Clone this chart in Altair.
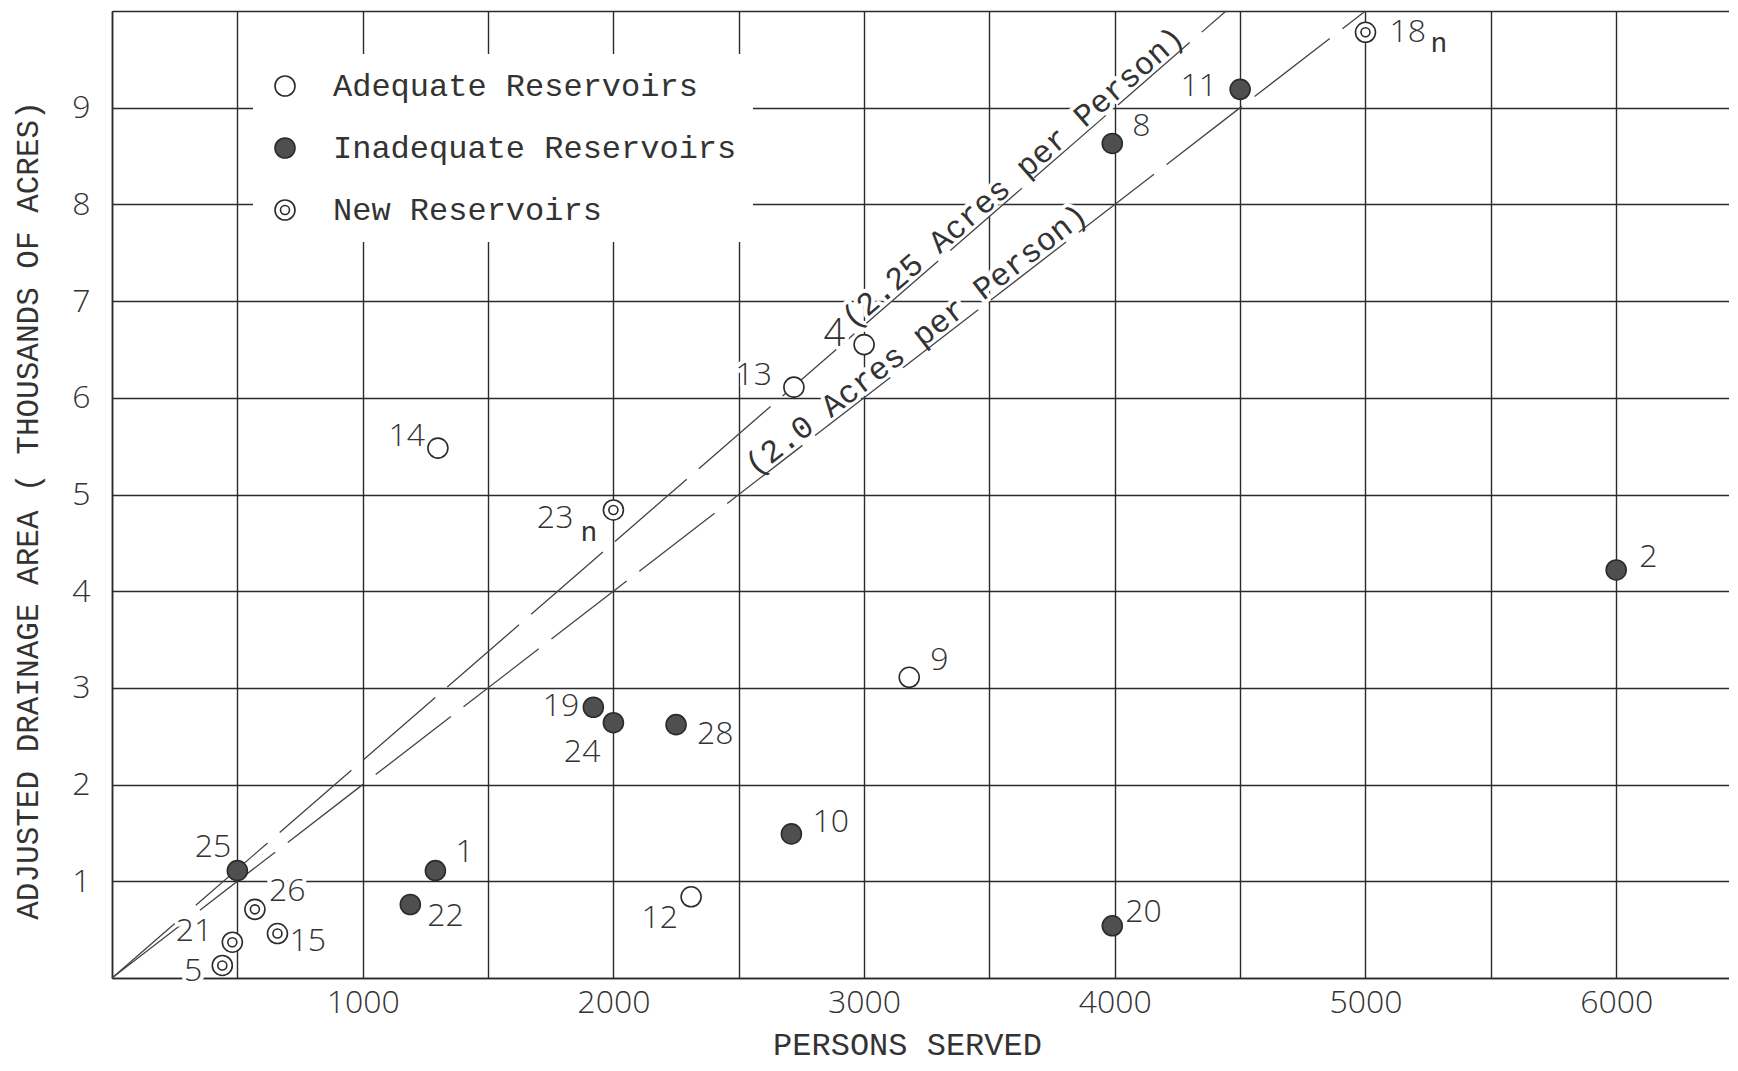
import altair as alt
import pandas as pd

# ---------------- data ----------------
IDS = ["1", "2", "4", "5", "8", "9", "10", "11", "12", "13", "14",
       "15", "18", "19", "20", "21", "22", "23", "24", "25", "26", "28"]
PERSONS = [1290, 6000, 3000, 440, 3990, 3180, 2710, 4500, 2310, 2720, 1300,
           660, 5000, 1920, 3990, 480, 1190, 2000, 2000, 500, 570, 2250]
AREA = [1.11, 4.22, 6.55, 0.13, 8.63, 3.11, 1.49, 9.19, 0.84, 6.11, 5.48,
        0.46, 9.78, 2.80, 0.54, 0.37, 0.76, 4.84, 2.64, 1.11, 0.71, 2.62]
TYPE = ["Inadequate Reservoirs", "Inadequate Reservoirs", "Adequate Reservoirs",
        "New Reservoirs", "Inadequate Reservoirs", "Adequate Reservoirs",
        "Inadequate Reservoirs", "Inadequate Reservoirs", "Adequate Reservoirs",
        "Adequate Reservoirs", "Adequate Reservoirs", "New Reservoirs",
        "New Reservoirs", "Inadequate Reservoirs", "Inadequate Reservoirs",
        "New Reservoirs", "Inadequate Reservoirs", "New Reservoirs",
        "Inadequate Reservoirs", "Inadequate Reservoirs", "New Reservoirs",
        "Inadequate Reservoirs"]
SUBSCRIPT = ["", "", "", "", "", "", "", "", "", "", "",
             "", "n", "", "", "", "", "n", "", "", "", ""]

CATS = ["Adequate Reservoirs", "Inadequate Reservoirs", "New Reservoirs"]

GUIDE_RATE = ["2.25", "2.25", "2.0", "2.0"]
GUIDE_PERSONS = [0, 4444, 0, 5000]
GUIDE_AREA = [0, 10, 0, 10]

GUIDE_LABELS = ["(2.25 Acres per Person)", "(2.0 Acres per Person)"]
GUIDE_LABEL_PERSONS = [2965, 2575]
GUIDE_LABEL_AREA = [6.67, 5.15]

X_TICKS = [0, 500, 1000, 1500, 2000, 2500, 3000, 3500, 4000, 4500, 5000, 5500, 6000]
Y_TICKS = [0, 1, 2, 3, 4, 5, 6, 7, 8, 9, 10]

# ---------------- style ----------------
W, H = 1617, 967
X_MAX = 6450
MONO = "Liberation Mono"
NUM = "Open Sans"
INK = "#2b2b2b"
TEXT = "#333333"
DOUBLE_RING = ("M-1,0A1,1,0,1,0,1,0A1,1,0,1,0,-1,0Z"
               "M-0.45,0A0.45,0.45,0,1,0,0.45,0A0.45,0.45,0,1,0,-0.45,0Z")

# label placement: (align, dx, dy) in pixels relative to the point
PLACE = {
    "18": ("left", 24, 0), "11": ("right", -23, -3), "8": ("left", 20, -17),
    "4": ("right", -19, -10), "13": ("right", -22, -12), "14": ("right", -13, -12),
    "23": ("right", -40, 8), "2": ("left", 23, -13), "9": ("left", 21, -17),
    "19": ("right", -14, -1), "24": ("right", -13, 29), "28": ("left", 21, 9),
    "10": ("left", 21, -12), "25": ("right", -6, -24), "1": ("left", 20, -19),
    "26": ("left", 14, -18), "22": ("left", 17, 11), "12": ("right", -13, 21),
    "20": ("left", 13, -14), "15": ("left", 12, 7), "21": ("right", -20, -11),
    "5": ("right", -20, 6),
}
SUB_PLACE = {"18": (65, 12), "23": (-33, 23)}

pts = pd.DataFrame({"id": IDS, "persons": PERSONS, "area": AREA,
                    "type": TYPE, "sub": SUBSCRIPT})
guides = pd.DataFrame({"rate": GUIDE_RATE, "persons": GUIDE_PERSONS, "area": GUIDE_AREA})
glabels = pd.DataFrame({"label": GUIDE_LABELS, "persons": GUIDE_LABEL_PERSONS,
                        "area": GUIDE_LABEL_AREA})

x_axis = alt.Axis(values=X_TICKS, grid=True, ticks=False, domain=True,
                  gridColor=INK, gridWidth=1.4, gridOpacity=1,
                  domainColor=INK, domainWidth=1.6,
                  labelExpr="(datum.value % 1000 == 0 && datum.value > 0) ? format(datum.value, 'd') : ''",
                  labelFont=NUM, labelFontSize=32, labelFontWeight=300, labelColor=TEXT,
                  labelPadding=9, labelOverlap=False, labelFlush=False,
                  title="PERSONS SERVED", titleFont=MONO, titleFontSize=32,
                  titleFontWeight="normal", titleColor=TEXT, titleX=795, titleY=76,
                  titleAlign="center", titleBaseline="alphabetic")
y_axis = alt.Axis(values=Y_TICKS, grid=True, ticks=False, domain=True,
                  gridColor=INK, gridWidth=1.4, gridOpacity=1,
                  domainColor=INK, domainWidth=1.6,
                  labelExpr="(datum.value >= 1 && datum.value <= 9) ? format(datum.value, 'd') : ''",
                  labelFont=NUM, labelFontSize=32, labelFontWeight=300, labelColor=TEXT,
                  labelPadding=22, labelOverlap=False, labelFlush=False,
                  title="ADJUSTED DRAINAGE AREA ( THOUSANDS OF ACRES)", titleFont=MONO,
                  titleFontSize=31, titleFontWeight="normal", titleColor=TEXT,
                  titleAngle=270, titleX=-84, titleY=499, titleAlign="center",
                  titleBaseline="middle")

x_enc = alt.X("persons:Q", scale=alt.Scale(domain=[0, X_MAX], nice=False, zero=False), axis=x_axis)
y_enc = alt.Y("area:Q", scale=alt.Scale(domain=[0, 10], nice=False, zero=False), axis=y_axis)

layers = []

# halos behind guide labels (mask gridlines)
for i, ang in [(0, 319.05), (1, 322.35)]:
    layers.append(
        alt.Chart(glabels.iloc[[i]]).mark_text(
            align="left", baseline="alphabetic", dy=-4, angle=ang, font=MONO,
            fontSize=32, color="white", stroke="white", strokeWidth=8, strokeJoin="round"
        ).encode(x=x_enc, y=y_enc, text="label:N")
    )

# guide lines
layers.append(
    alt.Chart(guides).mark_line(color="#444444", strokeWidth=1.3, strokeDash=[95, 16])
    .encode(x=x_enc, y=y_enc, detail="rate:N")
)

base = alt.Chart(pts)


def label_layer(lid, halo):
    align, dx, dy = PLACE[lid]
    size = 38 if lid == "4" else 32
    props = dict(align=align, dx=dx, dy=dy, baseline="middle", font=NUM,
                 fontSize=size, fontWeight=300)
    if halo:
        props.update(color="white", stroke="white", strokeWidth=8, strokeJoin="round")
    else:
        props.update(color=TEXT)
    return base.transform_filter(alt.datum.id == lid).mark_text(**props).encode(
        x=x_enc, y=y_enc, text="id:N")


for lid in IDS:
    layers.append(label_layer(lid, True))

legend = alt.Legend(title=None, orient="none", legendX=141, legendY=43,
                    fillColor="white", padding=16, labelFont=MONO, labelFontSize=32,
                    labelColor=TEXT, labelLimit=1000, symbolSize=400,
                    symbolStrokeWidth=1.6, rowPadding=30,
                    labelOffset=32, direction="vertical")

layers.append(
    base.mark_point(size=400, strokeWidth=1.6, opacity=1, fillOpacity=1, strokeOpacity=1)
    .encode(
        x=x_enc, y=y_enc,
        fill=alt.Fill("type:N", scale=alt.Scale(domain=CATS, range=["white", "#4f4f4f", "white"]),
                      legend=legend),
        stroke=alt.Stroke("type:N", scale=alt.Scale(domain=CATS, range=[INK, INK, INK]),
                          legend=legend),
        shape=alt.Shape("type:N", scale=alt.Scale(domain=CATS, range=["circle", "circle", DOUBLE_RING]),
                        legend=legend),
    )
)

for lid in IDS:
    layers.append(label_layer(lid, False))

for lid, (sdx, sdy) in SUB_PLACE.items():
    layers.append(
        base.transform_filter(alt.datum.id == lid).mark_text(
            align="left", baseline="middle", dx=sdx, dy=sdy, font=MONO, fontSize=28,
            color=TEXT
        ).encode(x=x_enc, y=y_enc, text="sub:N")
    )

for i, ang in [(0, 319.05), (1, 322.35)]:
    layers.append(
        alt.Chart(glabels.iloc[[i]]).mark_text(
            align="left", baseline="alphabetic", dy=-4, angle=ang, font=MONO,
            fontSize=32, color=TEXT
        ).encode(x=x_enc, y=y_enc, text="label:N")
    )

chart = alt.layer(*layers).properties(
    width=W, height=H,
    padding={"left": 104, "top": 3, "right": 0, "bottom": 85},
    autosize=alt.AutoSizeParams(type="none"),
    background="white",
).configure_view(stroke=None)

chart.save("out.html", embed_options={"renderer": "svg", "actions": False})
